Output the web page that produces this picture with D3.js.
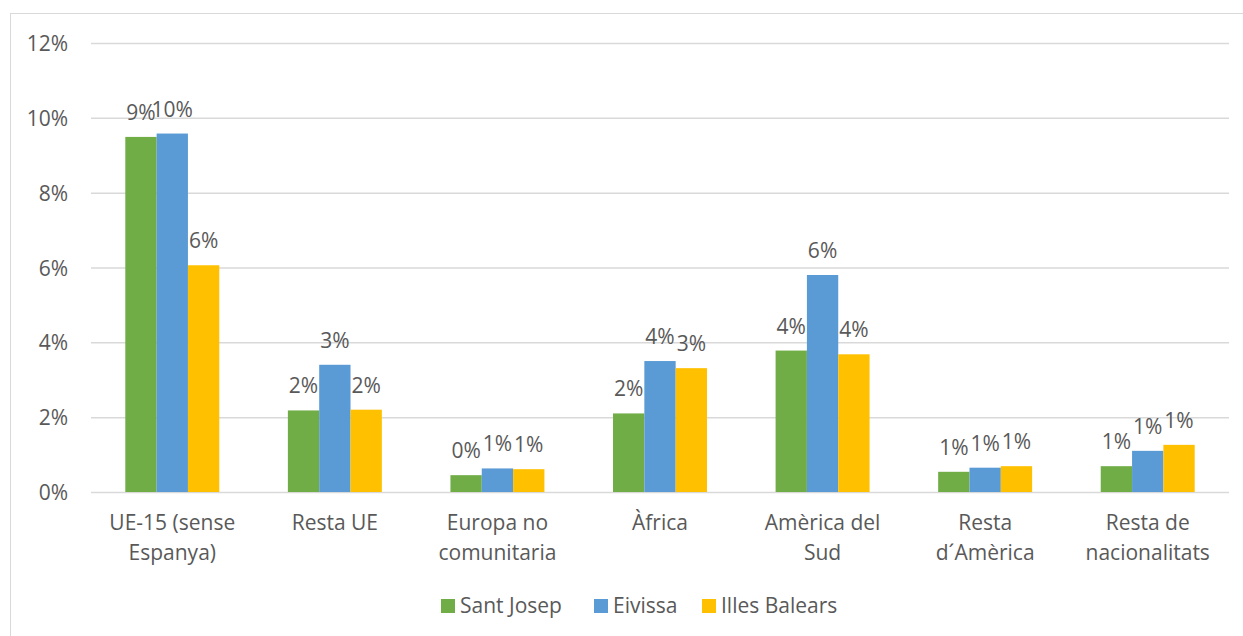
<!DOCTYPE html>
<html>
<head>
<meta charset="utf-8">
<script src="https://cdn.jsdelivr.net/npm/d3@7"></script>
<style>
  body { margin: 0; background: #fff; }
  text { font-family: "Open Sans", "Noto Sans", sans-serif; fill: #595959; }
</style>
</head>
<body>
<div id="chart"></div>
<script>
var categories = [["UE-15 (sense", "Espanya)"], ["Resta UE"], ["Europa no", "comunitaria"], ["Àfrica"],
                  ["Amèrica del", "Sud"], ["Resta", "d´Amèrica"], ["Resta de", "nacionalitats"]];
var seriesNames = ["Sant Josep", "Eivissa", "Illes Balears"];
var santJosep   = [9.49, 2.18, 0.45, 2.10, 3.78, 0.54, 0.69];
var eivissa     = [9.58, 3.40, 0.63, 3.50, 5.80, 0.65, 1.10];
var illesBalears = [6.06, 2.20, 0.61, 3.31, 3.68, 0.69, 1.26];
var yTicks = [0, 2, 4, 6, 8, 10, 12];
var colors = ["#70AD47", "#5B9BD5", "#FFC000"];

var w = 1243, h = 636;
var plotLeft = 91, plotRight = 1229, plotTop = 43, plotBottom = 492;
var fs = 21;

var svg = d3.select("#chart").append("svg")
    .attr("width", w)
    .attr("height", h);

// chart frame
svg.append("rect")
    .attr("x", 10.5).attr("y", 13.5)
    .attr("width", w + 20).attr("height", h + 20)
    .attr("fill", "none")
    .attr("stroke", "#d9d9d9");

var keys = categories.map((c, i) => "c" + i);
var x0 = d3.scaleBand().domain(keys).range([plotLeft, plotRight]).paddingInner(0.422).paddingOuter(0.211);
var x1 = d3.scaleBand().domain(seriesNames).range([0, x0.bandwidth()]);
var y = d3.scaleLinear().domain([0, 12]).range([plotBottom, plotTop]);

// gridlines + y labels
var yAxis = svg.append("g")
    .attr("transform", "translate(" + plotLeft + ",0)")
    .call(d3.axisLeft(y).tickValues(yTicks).tickSize(-(plotRight - plotLeft)).tickPadding(23).tickFormat(d => d + "%"));
yAxis.select(".domain").remove();
yAxis.selectAll(".tick line").attr("stroke", "#d9d9d9").attr("stroke-width", 1.5);
yAxis.selectAll(".tick text").attr("font-size", fs).attr("dy", "0.36em").style("font-family", null);
yAxis.attr("font-family", null).attr("font-size", null);

var table = categories.map((c, i) => ({
    key: keys[i],
    label: c,
    values: [santJosep[i], eivissa[i], illesBalears[i]]
}));

var groups = svg.selectAll("g.cat")
    .data(table)
    .enter()
    .append("g")
    .attr("class", "cat")
    .attr("transform", d => "translate(" + x0(d.key) + ",0)");

var bars = groups.selectAll("g.bar")
    .data(d => d.values.map((v, j) => ({ name: seriesNames[j], value: v, j: j })))
    .enter()
    .append("g")
    .attr("class", "bar");

bars.append("rect")
    .attr("x", d => x1(d.name))
    .attr("y", d => y(d.value))
    .attr("width", x1.bandwidth())
    .attr("height", d => plotBottom - y(d.value))
    .attr("fill", d => colors[d.j]);

bars.append("text")
    .attr("x", d => x1(d.name) + x1.bandwidth() / 2)
    .attr("y", d => y(d.value) - 17)
    .attr("text-anchor", "middle")
    .attr("font-size", fs)
    .text(d => Math.round(d.value) + "%");

// category labels
groups.append("text")
    .attr("x", x0.bandwidth() / 2)
    .attr("y", 530)
    .attr("text-anchor", "middle")
    .attr("font-size", fs)
    .selectAll("tspan")
    .data(d => d.label)
    .enter()
    .append("tspan")
    .attr("x", x0.bandwidth() / 2)
    .attr("dy", (d, i) => i === 0 ? 0 : 30)
    .text(d => d);

// legend
var legendX = [441, 594, 702];
var legend = svg.selectAll("g.legend")
    .data(seriesNames)
    .enter()
    .append("g")
    .attr("class", "legend")
    .attr("transform", (d, i) => "translate(" + legendX[i] + ",599)");

legend.append("rect")
    .attr("width", 14)
    .attr("height", 14)
    .attr("fill", (d, i) => colors[i]);

legend.append("text")
    .attr("x", 19)
    .attr("y", 14)
    .attr("font-size", fs)
    .text(d => d);
</script>
</body>
</html>
